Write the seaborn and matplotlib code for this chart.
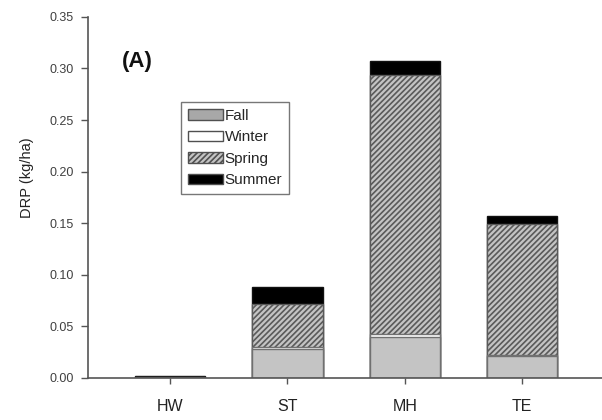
import matplotlib
matplotlib.use("Agg")
import matplotlib.pyplot as plt
from matplotlib.patches import Patch
import seaborn as sns
import pandas as pd
import numpy as np

sites = ["HW", "ST", "MH", "TE"]
fall = [0.0003, 0.028, 0.040, 0.021]
winter = [0.0001, 0.002, 0.003, 0.0015]
spring = [0.0003, 0.0415, 0.251, 0.1265]
summer = [0.0008, 0.017, 0.013, 0.0075]
seasons = ["Fall", "Winter", "Spring", "Summer"]

sns.set_theme(style="white")
plt.rcParams["font.family"] = ["Liberation Sans", "DejaVu Sans"]
plt.rcParams["hatch.linewidth"] = 1.2

df = pd.DataFrame({"site": sites, "Fall": fall, "Winter": winter,
                   "Spring": spring, "Summer": summer})
cum = df[seasons].cumsum(axis=1)

fig = plt.figure(figsize=(6.02, 4.20), dpi=100)
ax = fig.add_axes([0.146, 0.10, 0.854, 0.86])

styles = {
    "Summer": dict(color="#000000", edgecolor="#111111", hatch=None),
    "Spring": dict(color="#c4c4c4", edgecolor="#5a5a5a", hatch="//////"),
    "Winter": dict(color="#ffffff", edgecolor="#707070", hatch=None),
    "Fall": dict(color="#c4c4c4", edgecolor="#707070", hatch=None),
}
for s in ["Summer", "Spring", "Winter", "Fall"]:
    st = styles[s]
    kw = dict(x=df["site"], y=cum[s], order=sites, width=0.6, ax=ax,
              color=st["color"], edgecolor=st["edgecolor"], linewidth=1.0,
              errorbar=None, saturation=1)
    if st["hatch"]:
        kw["hatch"] = st["hatch"]
    sns.barplot(**kw)

ax.set_xlim(-0.7, 3.68)
ax.set_ylim(0, 0.35)
ax.set_yticks(np.arange(0, 0.351, 0.05))
ax.set_yticklabels([f"{v:.2f}" for v in np.arange(0, 0.351, 0.05)],
                   fontsize=9, color="#404040")
ax.set_xticks(range(4))
ax.set_xticklabels(sites, fontsize=11.5, color="#222222")
ax.set_xlabel("")
ax.set_ylabel("DRP (kg/ha)", fontsize=10.5, color="#222222")
ax.yaxis.set_label_coords(-0.105, 0.555)
ax.tick_params(axis="y", direction="out", length=5, width=1,
               color="#555555", left=True, pad=5)
ax.tick_params(axis="x", direction="out", length=4, width=1,
               color="#555555", bottom=True, pad=11)
for sp in ["top", "right"]:
    ax.spines[sp].set_visible(False)
for sp in ["left", "bottom"]:
    ax.spines[sp].set_color("#555555")
    ax.spines[sp].set_linewidth(1.2)

ax.text(0.066, 0.861, "(A)", transform=ax.transAxes, fontsize=16,
        fontweight="bold", color="#111111", va="baseline")

handles = [Patch(facecolor=styles[s]["color"] if s != "Fall" else "#a8a8a8",
                 edgecolor="#505050", hatch=styles[s]["hatch"], label=s)
           for s in seasons]
leg = ax.legend(handles=handles, loc="upper left", bbox_to_anchor=(0.181, 0.765),
                fontsize=11, frameon=True, fancybox=False, handlelength=2.3,
                handleheight=0.7, handletextpad=0.1, labelspacing=0.5,
                borderpad=0.45, borderaxespad=0)
leg.get_frame().set_edgecolor("#555555")
leg.get_frame().set_linewidth(1.0)

fig.savefig("out.png", dpi=100)
